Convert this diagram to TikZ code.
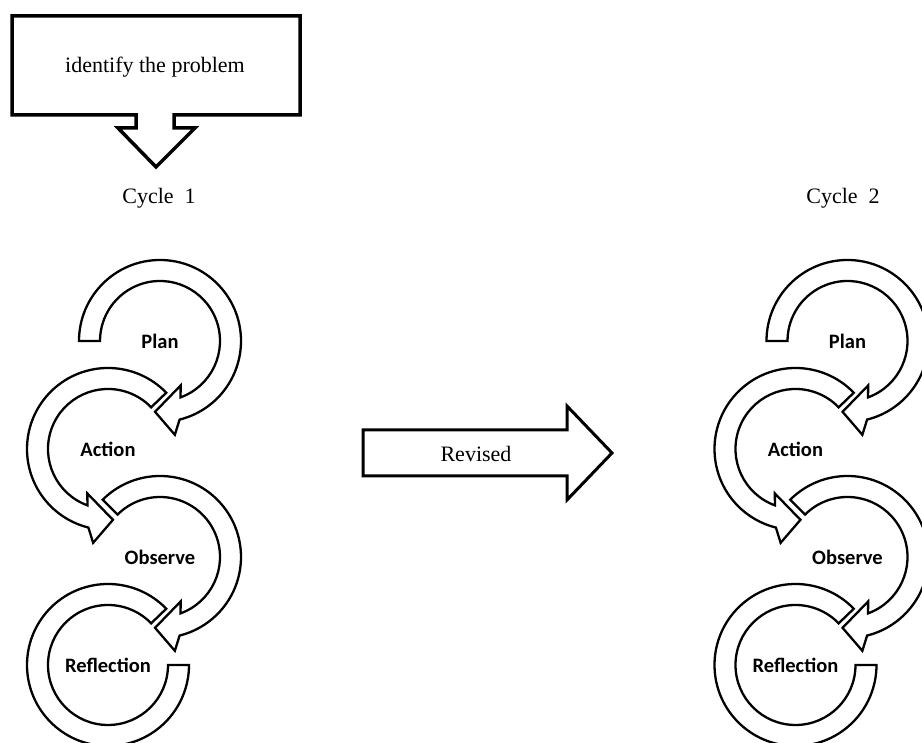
\documentclass[tikz,border=0pt]{standalone}
\usepackage{fontspec}
\setmainfont{Liberation Serif}
\newfontfamily\lblfont{Carlito}
\usetikzlibrary{calc}
\tikzset{
  band/.style={draw=black,fill=white,line width=2.3pt,line join=miter},
  blockshape/.style={draw=black,fill=white,line width=3.5pt,line join=miter},
  serlabel/.style={font=\fontsize{22}{25}\selectfont,inner sep=0pt},
  steplabel/.style={font=\lblfont\bfseries\fontsize{20.5}{22}\selectfont,inner sep=0pt}
}
% clockwise band: #1 centre, #2 start angle
\newcommand\cwband[2]{%
  \draw[band] ($(#1)+(#2:81pt)$) arc[start angle=#2,end angle=-76,radius=81pt]
    -- ($(#1)+(-81:95pt)$) -- ($(#1)+(-94:71pt)$) -- ($(#1)+(-65:49pt)$)
    -- ($(#1)+(-70:60pt)$) arc[start angle=-70,end angle=#2,radius=60pt] -- cycle;}
% counter-clockwise band with head
\newcommand\ccwband[2]{%
  \draw[band] ($(#1)+(#2:81pt)$) arc[start angle=#2,end angle=256,radius=81pt]
    -- ($(#1)+(261:95pt)$) -- ($(#1)+(274:71pt)$) -- ($(#1)+(245:49pt)$)
    -- ($(#1)+(250:60pt)$) arc[start angle=250,end angle=#2,radius=60pt] -- cycle;}
% counter-clockwise band without head, flat end at 360
\newcommand\ccwtail[2]{%
  \draw[band] ($(#1)+(#2:81pt)$) arc[start angle=#2,end angle=360,radius=81pt]
    -- ($(#1)+(0:60pt)$) arc[start angle=360,end angle=#2,radius=60pt] -- cycle;}
\begin{document}
\begin{tikzpicture}[x=1pt,y=1pt]
\useasboundingbox (0,0) rectangle (922,743);
\clip (0,0) rectangle (922,743);
\fill[white] (0,0) rectangle (922,743);

% top block
\draw[blockshape] (12,727) -- (300,727) -- (300,628) -- (174,628) -- (174,615)
  -- (195,615) -- (156,576) -- (118,615) -- (136,615) -- (136,628) -- (12,628) -- cycle;
\node[serlabel] (problem) at (155,676) {identify the problem};

\node[serlabel] (cyc1) at (159,545) {Cycle\ \ 1};
\node[serlabel] (cyc2) at (843,545) {Cycle\ \ 2};

% revised arrow
\draw[blockshape,line width=3pt] (363,313) -- (567,313) -- (567,337) -- (612,290)
  -- (567,243) -- (567,267) -- (363,267) -- cycle;
\node[serlabel] (revised) at (476,289) {Revised};

% cycle 1
\coordinate (P1) at (160,402);
\coordinate (A1) at (108,294);
\coordinate (O1) at (160,186);
\coordinate (R1) at (108,78);
% cycle 2
\coordinate (P2) at (847.5,402);
\coordinate (A2) at (795.5,294);
\coordinate (O2) at (847.5,186);
\coordinate (R2) at (795.5,78);

\foreach \s in {1,2}{
  \ccwtail{R\s}{44}
  \cwband{O\s}{135}
  \ccwband{A\s}{44}
  \cwband{P\s}{180}
}

\node[steplabel] (plan1) at (P1) {Plan};
\node[steplabel] (act1) at (A1) {Action};
\node[steplabel] (obs1) at (O1) {Observe};
\node[steplabel] (ref1) at (R1) {Reflection};
\node[steplabel] (plan2) at (P2) {Plan};
\node[steplabel] (act2) at (A2) {Action};
\node[steplabel] (obs2) at (O2) {Observe};
\node[steplabel] (ref2) at (R2) {Reflection};
\end{tikzpicture}
\end{document}
